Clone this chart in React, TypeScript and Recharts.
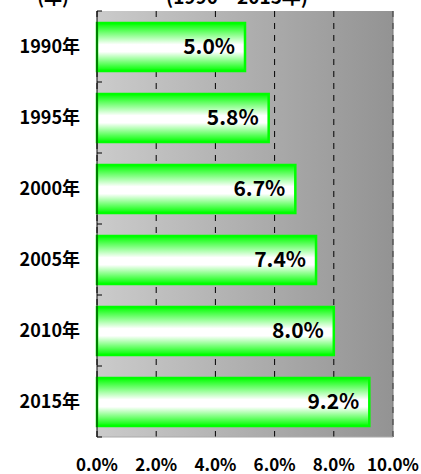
import React, { FC } from 'react'
import { Bar, BarChart, CartesianGrid, LabelList, ReferenceLine, XAxis, YAxis } from 'recharts'

const years = ['1990年', '1995年', '2000年', '2005年', '2010年', '2015年']
const rates = [5.0, 5.8, 6.7, 7.4, 8.0, 9.2]
const xTicks = [0, 2, 4, 6, 8, 10]

const W = 421
const H = 474
const M_TOP = 11
const M_RIGHT = 28
const Y_W = 97
const X_H = 37
const BAND_HALF = (H - M_TOP - X_H) / years.length / 2

const data = years.map((year, i) => ({ year, rate: rates[i] }))

const YTick: FC<any> = ({ x, y, payload, index }) => {
    const ax = x + 17
    return (
        <g>
            <text x={x} y={y} dy="0.35em" textAnchor="end" fontSize={18} fontWeight={700} fill="#000">
                {payload.value}
            </text>
            <line x1={ax} x2={ax + 5} y1={y - BAND_HALF} y2={y - BAND_HALF} stroke="#000" />
            {index === years.length - 1 && (
                <line x1={ax} x2={ax + 5} y1={y + BAND_HALF} y2={y + BAND_HALF} stroke="#000" />
            )}
        </g>
    )
}

const App: FC = () => {
    return (
        <div style={{ position: 'absolute', left: 0, top: 0, width: W, height: H, fontFamily: '"Noto Sans CJK JP", sans-serif' }}>
            <div style={{ position: 'absolute', left: 53, top: -13, transform: 'translateX(-50%)', fontSize: 18, fontWeight: 700, lineHeight: '18px', whiteSpace: 'nowrap' }}>
                (年)
            </div>
            <div style={{ position: 'absolute', left: 237, top: -14, transform: 'translateX(-50%)', fontSize: 19, fontWeight: 700, lineHeight: '19px', whiteSpace: 'nowrap' }}>
                (1990～2015年)
            </div>
            <BarChart
                width={W}
                height={H}
                data={data}
                layout="vertical"
                margin={{ top: M_TOP, right: M_RIGHT, left: 0, bottom: 0 }}
                barSize={48}
            >
                <defs>
                    <linearGradient id="bg" x1="0" y1="0" x2="1" y2="0">
                        <stop offset="0" stopColor="#cbcbcb" />
                        <stop offset="1" stopColor="#939393" />
                    </linearGradient>
                    <linearGradient id="barFill" x1="0" y1="0" x2="0" y2="1">
                        <stop offset="0" stopColor="#00ff00" />
                        <stop offset="0.45" stopColor="#ffffff" />
                        <stop offset="0.6" stopColor="#ffffff" />
                        <stop offset="1" stopColor="#00ff00" />
                    </linearGradient>
                </defs>
                <CartesianGrid
                    horizontal={false}
                    strokeDasharray="6 6"
                    stroke="#000"
                    fill="url(#bg)"
                    fillOpacity={1}
                />
                <XAxis
                    type="number"
                    domain={[0, 10]}
                    ticks={xTicks}
                    height={X_H}
                    tickSize={0}
                    tickMargin={22}
                    tickLine={false}
                    axisLine={{ stroke: '#aaa' }}
                    tickFormatter={(v: number) => v.toFixed(1) + '%'}
                    tick={{ fontSize: 17, fontWeight: 700, fill: '#000' }}
                    interval={0}
                />
                <XAxis
                    xAxisId="top"
                    orientation="top"
                    type="number"
                    domain={[0, 10]}
                    height={0}
                    tick={false}
                    tickLine={false}
                    axisLine={{ stroke: '#444' }}
                />
                <YAxis
                    type="category"
                    dataKey="year"
                    width={Y_W}
                    tickSize={0}
                    tickMargin={17}
                    tickLine={false}
                    axisLine={{ stroke: '#000' }}
                    tick={<YTick />}
                    interval={0}
                />
                <ReferenceLine x={10} stroke="#777" />
                <Bar dataKey="rate" fill="url(#barFill)" stroke="#00ff00" strokeWidth={2.5} isAnimationActive={false}>
                    <LabelList
                        dataKey="rate"
                        position="insideRight"
                        offset={10}
                        formatter={(v: any) => Number(v).toFixed(1) + '%'}
                        style={{ fontSize: 21, fontWeight: 700, fill: '#000' }}
                    />
                </Bar>
            </BarChart>
        </div>
    )
}

export default App
